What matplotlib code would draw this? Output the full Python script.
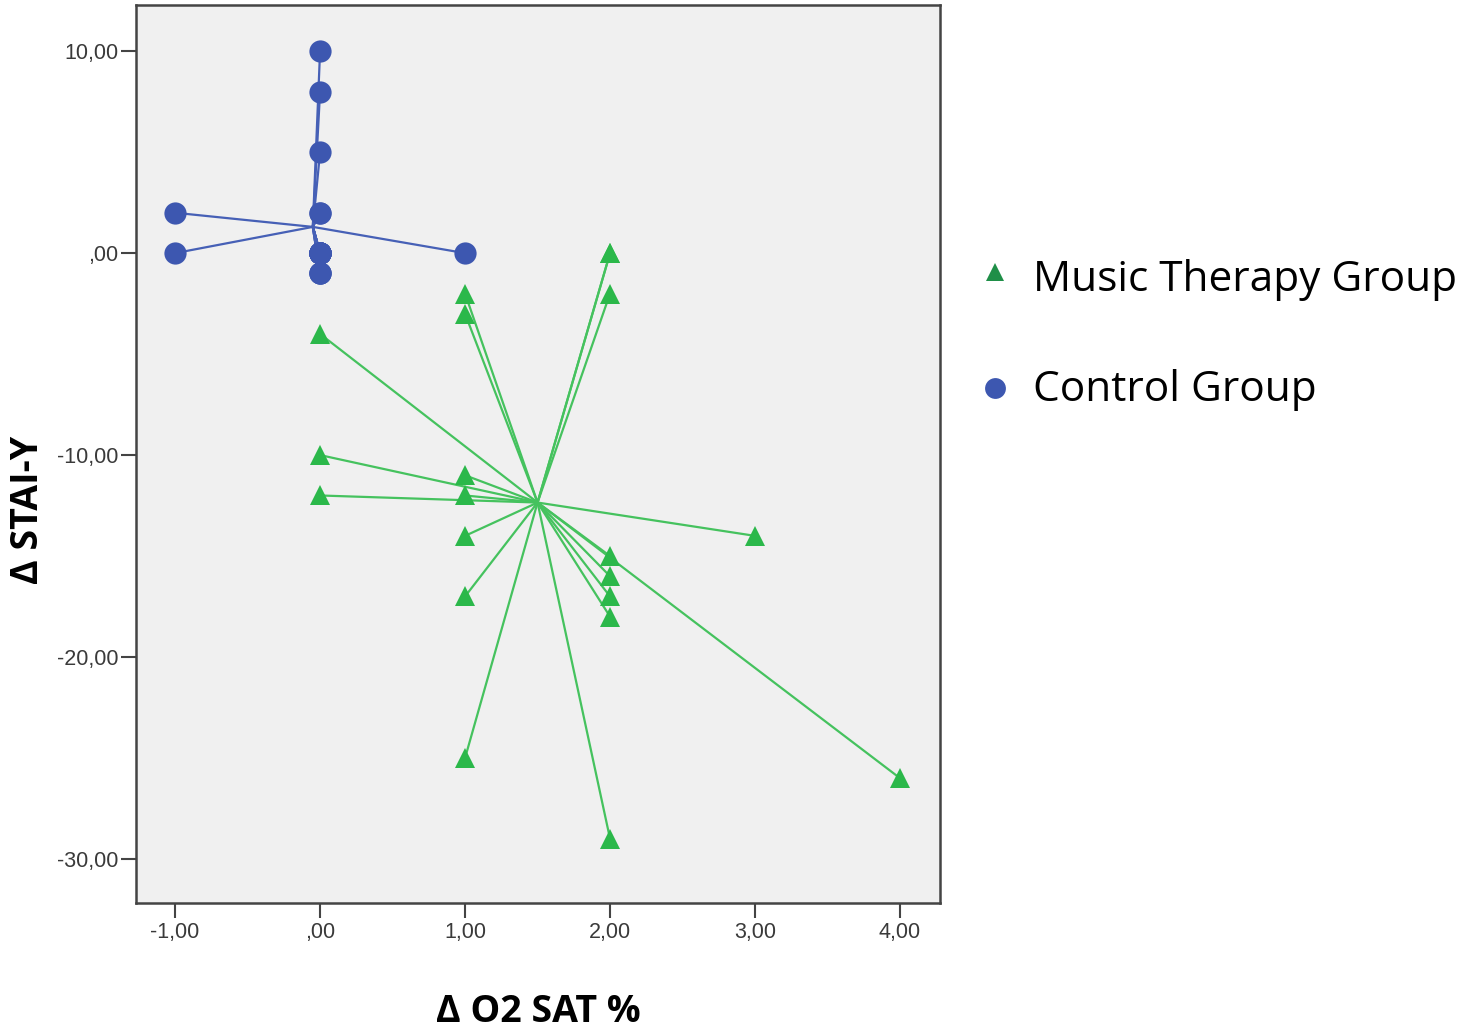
import numpy as np
import matplotlib.pyplot as plt
from matplotlib.lines import Line2D
from matplotlib.ticker import FuncFormatter

# Music therapy group (delta O2 sat %, delta STAI-Y)
music_o2 = [2, 2, 2, 1, 1, 0, 0, 0, 1, 1, 1, 1, 1, 2, 2, 2, 2, 2, 3, 4]
music_stai = [0, 0, -2, -2, -3, -4, -10, -12, -11, -12, -14, -17, -25,
              -15, -16, -17, -18, -29, -14, -26]

# Control group (overlapping points repeated)
control_o2 = [0, 0, 0, 0, 0, 0, -1, -1, 1,
              0, 0, 0, 0, 0, 0, 0, 0, 0, 0, 0]
control_stai = [10, 8, 5, 2, 0, -1, 2, 0, 0,
                0, 0, 0, 0, 0, 0, 0, 0, 2, -1, -1]

xticks = [-1, 0, 1, 2, 3, 4]
yticks = [10, 0, -10, -20, -30]
group_names = ['Music Therapy Group', 'Control Group']


def spss_fmt(v, pos=None):
    s = "{:.2f}".format(v).replace(".", ",")
    if s.startswith("0,"):
        s = s[1:]
    if s.startswith("-0,"):
        s = "-" + s[2:]
    return s


fig = plt.figure(figsize=(14.79, 10.32), dpi=100)
ax = fig.add_axes([0.092, 0.125, 0.5436, 0.870])
ax.set_facecolor('#f0f0f0')

groups = [
    (music_o2, music_stai, '^', '#2bb84a', '#45c25e', 14),
    (control_o2, control_stai, 'o', '#3d57b0', '#4660b6', 16),
]
for xs, ys, mk, col, lcol, ms in groups:
    xs = np.asarray(xs, dtype=float)
    ys = np.asarray(ys, dtype=float)
    cx, cy = xs.mean(), ys.mean()
    # spokes from the group centroid
    for x, y in zip(xs, ys):
        ax.plot([cx, x], [cy, y], color=lcol, lw=1.6, zorder=2)
    ax.plot(xs, ys, ls='none', marker=mk, ms=ms, color=col,
            markeredgewidth=0, zorder=3)

ax.set_xlim(-1.269, 4.276)
ax.set_ylim(-32.18, 12.28)
ax.set_xticks(xticks)
ax.set_yticks(yticks)
ax.xaxis.set_major_formatter(FuncFormatter(spss_fmt))
ax.yaxis.set_major_formatter(FuncFormatter(spss_fmt))
ax.tick_params(direction='out', length=11, width=1.5, colors='#444444',
               labelsize=15.5, labelcolor='#3a3a3a', pad=2)
ax.tick_params(axis='x', pad=3)
for sp in ax.spines.values():
    sp.set_color('#444444')
    sp.set_linewidth(1.8)
for lab in ax.get_xticklabels() + ax.get_yticklabels():
    lab.set_family('Liberation Sans')

lab_font = {'fontsize': 27, 'fontweight': 'bold', 'family': 'Open Sans'}
fig.text(538 / 1479, 1 - 1012 / 1032, 'Δ O2 SAT %', ha='center',
         va='center', **lab_font)
fig.text(28 / 1479, 1 - 510 / 1032, 'Δ STAI-Y', ha='center', va='center',
         rotation=90, **lab_font)

# legend drawn by hand
leg_marks = [('^', '#1f8f48', 13, 272, 280),
             ('o', '#3d57b0', 15, 388, 390)]
for name, (mk, col, ms, my, ty) in zip(group_names, leg_marks):
    fig.add_artist(Line2D([995 / 1479], [1 - my / 1032], ls='none',
                          marker=mk, ms=ms, color=col, markeredgewidth=0,
                          transform=fig.transFigure))
    fig.text(1033 / 1479, 1 - ty / 1032, name, ha='left', va='center',
             fontsize=30.5, family='Open Sans')

plt.savefig('out.png', dpi=100)
